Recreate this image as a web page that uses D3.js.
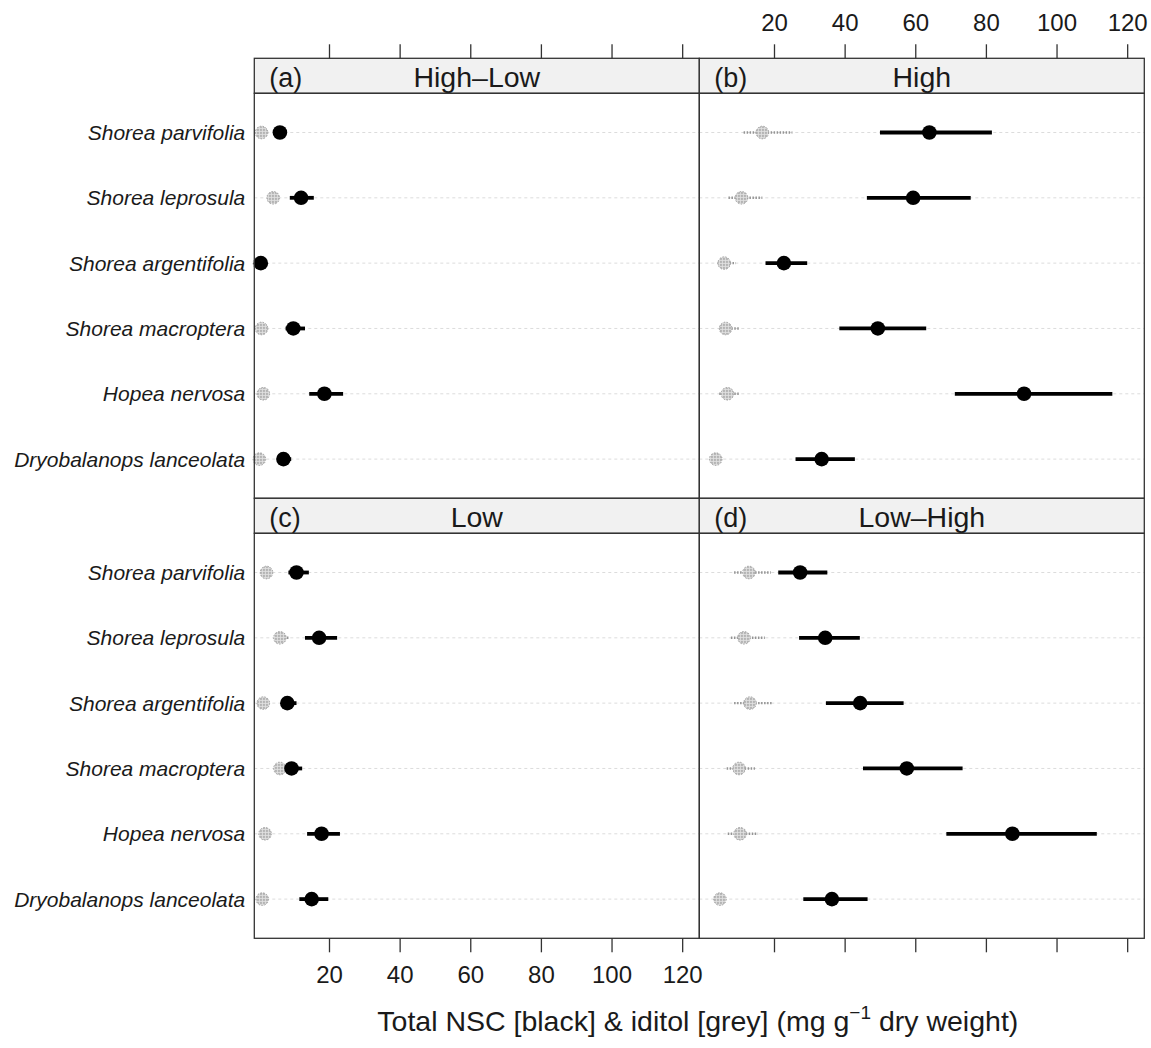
<!DOCTYPE html>
<html>
<head>
<meta charset="utf-8">
<script src="https://cdn.jsdelivr.net/npm/d3@7"></script>
<style>
  body { margin: 0; background: #fff; }
  text { font-family: "Liberation Sans", Arial, sans-serif; fill: #1a1a1a; }
</style>
</head>
<body>
<svg id="chart" width="1151" height="1048"></svg>
<script>
// species, top to bottom
var species = ["Shorea parvifolia", "Shorea leprosula", "Shorea argentifolia",
  "Shorea macroptera", "Hopea nervosa", "Dryobalanops lanceolata"];
var panelLetters = ["(a)", "(b)", "(c)", "(d)"];
var panelTitles = ["High\u2013Low", "High", "Low", "Low\u2013High"];
var xTicks = [20, 40, 60, 80, 100, 120];

// (a) High-Low
var nscHL = [6.1, 12.1, 0.7, 9.9, 18.7, 7.1];
var nscHLlo = [4.8, 8.9, 0.2, 7.7, 14.4, 5.8];
var nscHLhi = [7.4, 15.7, 1.2, 13.2, 24.0, 9.3];
var iditolHL = [0.9, 4.2, 0.3, 0.9, 1.4, 0.3];
var iditolHLlo = [0.5, 3.2, 0.1, 0.5, 0.9, 0.1];
var iditolHLhi = [1.4, 5.3, 0.5, 1.3, 2.0, 0.6];

// (b) High
var nscH = [64.0, 59.4, 22.8, 49.4, 90.8, 33.5];
var nscHlo = [50.0, 46.3, 17.6, 38.5, 71.2, 26.1];
var nscHhi = [81.7, 75.7, 29.4, 63.1, 115.8, 42.9];
var iditolH = [16.7, 10.8, 5.9, 6.3, 6.8, 3.5];
var iditolHlo = [11.4, 7.1, 4.0, 4.5, 4.5, 2.3];
var iditolHhi = [25.2, 16.7, 9.2, 10.1, 10.4, 4.8];

// (c) Low
var nscL = [10.8, 17.2, 8.2, 9.4, 17.9, 15.1];
var nscLlo = [8.5, 13.2, 6.6, 7.5, 13.8, 11.6];
var nscLhi = [14.3, 22.3, 10.8, 12.4, 23.1, 19.8];
var iditolL = [2.3, 6.1, 1.4, 6.1, 1.9, 1.1];
var iditolLlo = [1.6, 4.7, 0.9, 4.5, 1.4, 0.7];
var iditolLhi = [3.0, 8.9, 2.0, 8.0, 2.5, 1.6];

// (d) Low-High
var nscLH = [27.4, 34.5, 44.4, 57.6, 87.5, 36.4];
var nscLHlo = [21.2, 27.1, 34.7, 45.2, 68.8, 28.3];
var nscLHhi = [35.1, 44.3, 56.7, 73.4, 111.4, 46.5];
var iditolLH = [12.9, 11.5, 13.2, 10.1, 10.4, 4.7];
var iditolLHlo = [8.7, 7.8, 8.7, 6.6, 6.9, 3.3];
var iditolLHhi = [19.1, 17.4, 19.6, 14.6, 15.5, 6.1];

var panels = [
  {col: 0, row: 0, nsc: [nscHL, nscHLlo, nscHLhi], idi: [iditolHL, iditolHLlo, iditolHLhi]},
  {col: 1, row: 0, nsc: [nscH, nscHlo, nscHhi], idi: [iditolH, iditolHlo, iditolHhi]},
  {col: 0, row: 1, nsc: [nscL, nscLlo, nscLhi], idi: [iditolL, iditolLlo, iditolLhi]},
  {col: 1, row: 1, nsc: [nscLH, nscLHlo, nscLHhi], idi: [iditolLH, iditolLHlo, iditolLHhi]}
];

// layout (window.top is reserved, so plotTop)
var plotLeft = 254.3, plotTop = 58.3;
var pw = 445, stripH = 35, bodyH = 405;
var rowH = stripH + bodyH;

var svg = d3.select("#chart");

// stipple pattern for the grey dots
var defs = svg.append("defs");
var pat = defs.append("pattern")
  .attr("id", "stipple")
  .attr("width", 3).attr("height", 3)
  .attr("patternUnits", "userSpaceOnUse");
pat.append("rect").attr("width", 3).attr("height", 3).attr("fill", "#e2e2e2");
pat.append("rect").attr("width", 1.5).attr("height", 1.5).attr("fill", "#858585");

var x = d3.scaleLinear().domain([-1.15, 124.85]).range([0, pw]);
var y = d3.scalePoint().domain(species).range([0, bodyH]).padding(0.6);

panels.forEach(function(p, i) {
  var px = plotLeft + p.col * pw;
  var py = plotTop + p.row * rowH;
  var g = svg.append("g").attr("transform", "translate(" + px + "," + py + ")");

  // strip
  g.append("rect")
    .attr("width", pw).attr("height", stripH)
    .attr("fill", "#f1f1f1")
    .attr("stroke", "#333").attr("stroke-width", 1.3);
  g.append("text")
    .attr("x", 15).attr("y", 28.4)
    .attr("font-size", "27px")
    .text(panelLetters[i]);
  g.append("text")
    .attr("x", pw / 2).attr("y", 28.4)
    .attr("text-anchor", "middle")
    .attr("font-size", "28.5px")
    .text(panelTitles[i]);

  var body = g.append("g").attr("transform", "translate(0," + stripH + ")");

  // grid lines per species
  body.selectAll(".grid").data(species).enter().append("line")
    .attr("class", "grid")
    .attr("x1", 0).attr("x2", pw)
    .attr("y1", function(d) { return y(d); })
    .attr("y2", function(d) { return y(d); })
    .attr("stroke", "#dcdcdc")
    .attr("stroke-width", 1)
    .attr("stroke-dasharray", "3,3");

  // iditol (grey)
  body.selectAll(".idiBar").data(species).enter().append("line")
    .attr("class", "idiBar")
    .attr("x1", function(d, k) { return x(p.idi[1][k]); })
    .attr("x2", function(d, k) { return x(p.idi[2][k]); })
    .attr("y1", function(d) { return y(d); })
    .attr("y2", function(d) { return y(d); })
    .attr("stroke", "#949494")
    .attr("stroke-width", 2.4)
    .attr("stroke-dasharray", "1.5,1.5");
  body.selectAll(".idiDot").data(species).enter().append("circle")
    .attr("class", "idiDot")
    .attr("cx", function(d, k) { return x(p.idi[0][k]); })
    .attr("cy", function(d) { return y(d); })
    .attr("r", 6.3)
    .attr("fill", "url(#stipple)")
    .attr("stroke", "#a0a0a0")
    .attr("stroke-width", 1)
    .attr("stroke-dasharray", "1.5,1.5");

  // NSC (black)
  body.selectAll(".nscBar").data(species).enter().append("line")
    .attr("class", "nscBar")
    .attr("x1", function(d, k) { return x(p.nsc[1][k]); })
    .attr("x2", function(d, k) { return x(p.nsc[2][k]); })
    .attr("y1", function(d) { return y(d); })
    .attr("y2", function(d) { return y(d); })
    .attr("stroke", "#000")
    .attr("stroke-width", 3.8);
  body.selectAll(".nscDot").data(species).enter().append("circle")
    .attr("class", "nscDot")
    .attr("cx", function(d, k) { return x(p.nsc[0][k]); })
    .attr("cy", function(d) { return y(d); })
    .attr("r", 7.3)
    .attr("fill", "#000");

  // panel border
  body.append("rect")
    .attr("width", pw).attr("height", bodyH)
    .attr("fill", "none")
    .attr("stroke", "#333").attr("stroke-width", 1.3);

  // species labels on the left column
  if (p.col === 0) {
    body.selectAll(".lab").data(species).enter().append("text")
      .attr("class", "lab")
      .attr("x", -9)
      .attr("y", function(d) { return y(d); })
      .attr("dy", "0.36em")
      .attr("text-anchor", "end")
      .attr("font-size", "21px")
      .attr("font-style", "italic")
      .text(function(d) { return d; });
  }

  // top axis on first row, labels only on the right
  if (p.row === 0) {
    var ax = g.append("g")
      .call(d3.axisTop(x).tickValues(xTicks).tickSize(14).tickPadding(13)
        .tickFormat(p.col === 1 ? d3.format("d") : function() { return ""; }));
    styleAxis(ax);
  }
  // bottom axis on second row, labels only on the left
  if (p.row === 1) {
    var bx = body.append("g")
      .attr("transform", "translate(0," + bodyH + ")")
      .call(d3.axisBottom(x).tickValues(xTicks).tickSize(14).tickPadding(14)
        .tickFormat(p.col === 0 ? d3.format("d") : function() { return ""; }));
    styleAxis(bx);
  }
});

function styleAxis(a) {
  a.select(".domain").remove();
  a.selectAll(".tick line").attr("stroke", "#333").attr("stroke-width", 1.3);
  a.selectAll(".tick text")
    .attr("font-size", "24px")
    .attr("font-family", "Liberation Sans, Arial, sans-serif")
    .attr("fill", "#1a1a1a");
}

// x axis title
var title = svg.append("text")
  .attr("x", plotLeft + pw - 1.5)
  .attr("y", 1031)
  .attr("text-anchor", "middle")
  .attr("font-size", "28.5px");
title.append("tspan").text("Total NSC [black] & iditol [grey] (mg g");
title.append("tspan").attr("dy", -12).attr("font-size", "19px").text("\u22121");
title.append("tspan").attr("dy", 12).text(" dry weight)");
</script>
</body>
</html>
